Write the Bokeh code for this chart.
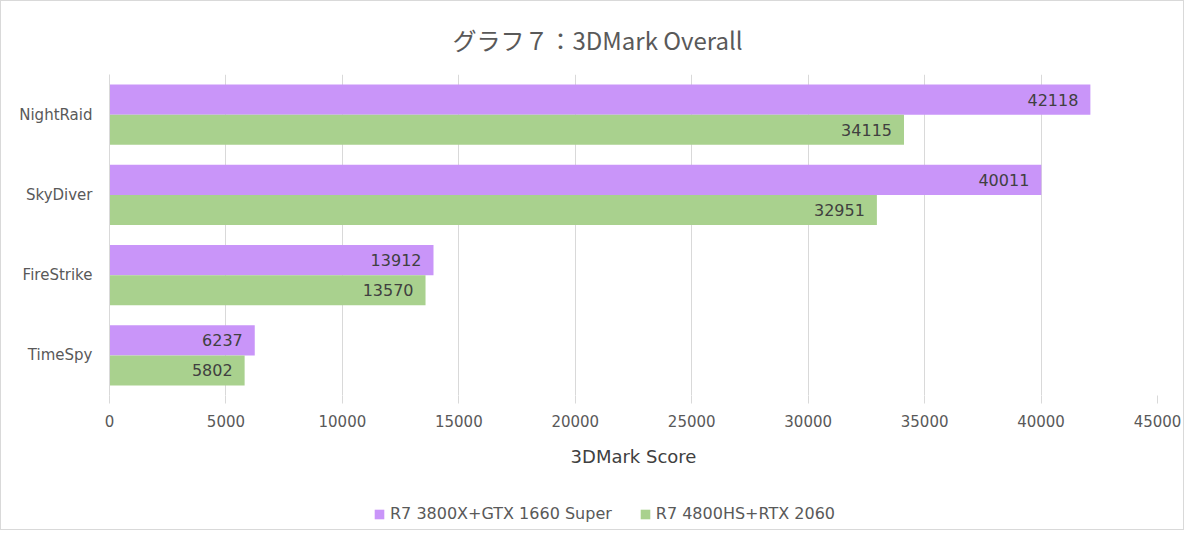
from bokeh.plotting import figure
from bokeh.layouts import column
from bokeh.models import ColumnDataSource, Range1d, FactorRange, Legend, LegendItem
from bokeh.transform import dodge
from bokeh.core.properties import value
from bokeh.embed import file_html
from bokeh.resources import INLINE

# ---- data ----
categories = ["NightRaid", "SkyDiver", "FireStrike", "TimeSpy"]
series_names = ["R7 3800X+GTX 1660 Super", "R7 4800HS+RTX 2060"]
r7_3800x = [42118, 40011, 13912, 6237]
r7_4800hs = [34115, 32951, 13570, 5802]
x_ticks = [0, 5000, 10000, 15000, 20000, 25000, 30000, 35000, 40000, 45000]

title_text = "グラフ７：3DMark Overall"
x_label = "3DMark Score"

FONT = "DejaVu Sans"
TFONT = "Noto Sans CJK JP"
PURPLE = "#C995F9"
GREEN = "#A9D18E"
GRID = "#D9D9D9"
TXT = "#595959"

src = ColumnDataSource(dict(cat=categories, a=r7_3800x, b=r7_4800hs,
                            a_lbl=[str(v) for v in r7_3800x],
                            b_lbl=[str(v) for v in r7_4800hs]))

W = 1182
H1, H2 = 478, 50
p = figure(width=W, height=H1, output_backend="svg", toolbar_location=None,
           y_range=FactorRange(*list(reversed(categories)), range_padding=0),
           x_range=Range1d(0, 45000),
           min_border_left=108, min_border_right=26, min_border_top=73, min_border_bottom=H1 - 394)
p.outline_line_color = None
p.background_fill_color = "white"
p.border_fill_color = "white"

bar_h = 0.375
ra = p.hbar(y=dodge("cat", bar_h / 2, range=p.y_range), right="a", left=0, height=bar_h,
            source=src, fill_color=PURPLE, line_color=None)
rb = p.hbar(y=dodge("cat", -bar_h / 2, range=p.y_range), right="b", left=0, height=bar_h,
            source=src, fill_color=GREEN, line_color=None)

p.text(x="a", y=dodge("cat", bar_h / 2, range=p.y_range), text="a_lbl", source=src,
       text_align="right", text_baseline="middle", x_offset=-12,
       text_font=value(FONT), text_font_size="16px", text_color="#404040")
p.text(x="b", y=dodge("cat", -bar_h / 2, range=p.y_range), text="b_lbl", source=src,
       text_align="right", text_baseline="middle", x_offset=-12,
       text_font=value(FONT), text_font_size="16px", text_color="#404040")

# title
p.title.text = title_text
p.title.align = "left"
p.title.offset = 343
p.title.standoff = 36
p.title.text_font = TFONT
p.title.text_font_size = "24px"
p.title.text_font_style = "normal"
p.title.text_color = TXT

# x axis
xa = p.xaxis[0]
xa.ticker = x_ticks
xa.axis_line_color = None
xa.major_tick_line_color = GRID
xa.major_tick_out = 8
xa.major_tick_in = 0
xa.minor_tick_line_color = None
xa.major_label_text_font = FONT
xa.major_label_text_font_size = "15px"
xa.major_label_text_color = TXT
xa.major_label_standoff = 11
xa.axis_label = x_label
xa.axis_label_text_font = FONT
xa.axis_label_text_font_size = "18px"
xa.axis_label_text_font_style = "normal"
xa.axis_label_text_color = "#404040"
xa.axis_label_standoff = 16

# y axis
ya = p.yaxis[0]
ya.axis_line_color = GRID
ya.major_tick_line_color = None
ya.minor_tick_line_color = None
ya.major_label_text_font = FONT
ya.major_label_text_font_size = "15px"
ya.major_label_text_color = TXT
ya.major_label_standoff = 11

p.ygrid.grid_line_color = None
p.xgrid.grid_line_color = GRID
p.xgrid.ticker = x_ticks

# legend strip (swatch proxies lie outside the strip's visible range)
p2 = figure(width=W, height=H2, output_backend="svg", toolbar_location=None,
            x_range=Range1d(0, 1), y_range=Range1d(0, 1),
            x_axis_location=None, y_axis_location=None, min_border=0)
p2.outline_line_color = None
p2.grid.visible = False
proxy = ColumnDataSource(dict(y=[-5], right=[0]))
la = p2.hbar(y="y", right="right", left=0, height=1, source=proxy, fill_color=PURPLE, line_color=None)
lb = p2.hbar(y="y", right="right", left=0, height=1, source=proxy, fill_color=GREEN, line_color=None)
legend = Legend(items=[LegendItem(label=series_names[0], renderers=[la]),
                       LegendItem(label=series_names[1], renderers=[lb])],
                orientation="horizontal", location=(264, 6),
                glyph_width=12, glyph_height=12, spacing=27, padding=0, margin=0,
                label_standoff=5, label_text_font=FONT, label_text_font_size="16px",
                label_text_color=TXT, border_line_color=None, background_fill_alpha=0)
p2.add_layout(legend, "center")

layout = column(p, p2, spacing=0, styles={"border": "1px solid #D9D9D9"})

open("out.html", "w").write(file_html(layout, INLINE))
